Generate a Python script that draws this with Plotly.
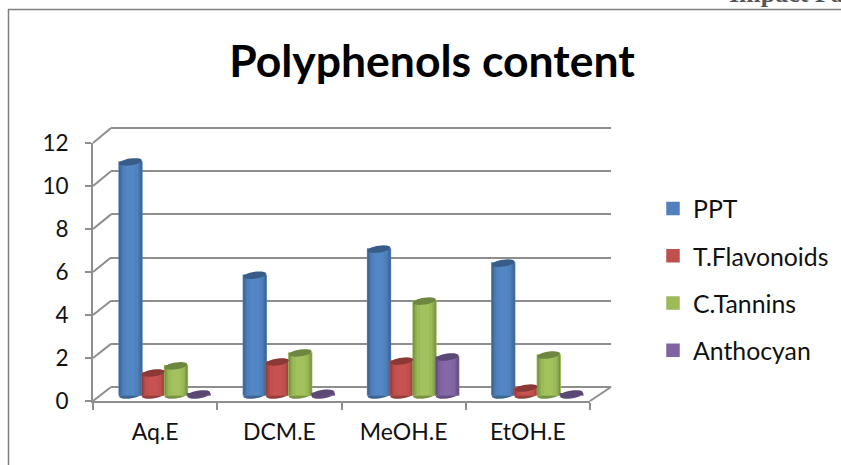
import math
import plotly.graph_objects as go

W, H = 841, 465
categories = ["Aq.E", "DCM.E", "MeOH.E", "EtOH.E"]
series_names = ["PPT", "T.Flavonoids", "C.Tannins", "Anthocyan"]
ppt = [10.8, 5.55, 6.76, 6.11]
flavonoids = [1.02, 1.53, 1.57, 0.32]
tannins = [1.35, 1.95, 4.35, 1.85]
anthocyan = [0.05, 0.08, 1.76, 0.05]
y_ticks = [0, 2, 4, 6, 8, 10, 12]
series_values = [ppt, flavonoids, tannins, anthocyan]

colors = ["#4F81BD", "#C0504D", "#9BBB59", "#8064A2"]
GRID = "#8E8E8E"
FONT = "Lato"
UNIT = 21.58  # pixels per value unit on the back wall and the bars


def shade(hex_color, f):
    r, g, b = (int(hex_color[i:i + 2], 16) for i in (1, 3, 5))
    c = lambda v: max(0, min(255, int(v * f)))
    return f"rgb({c(r)},{c(g)},{c(b)})"


def fx(px):
    return px / W


def fy(px):
    return 1 - px / H


BAR_W = 0.183
levels = [(1.0, 0.76), (0.92, 0.85), (0.82, 0.93), (0.68, 1.0), (0.4, 1.04)]
cat_idx = list(range(len(categories)))


def ellipse(cx, cy):
    a, b, k = BAR_W / 2, 0.16, 0.07
    pts = []
    for i in range(28):
        t = 2 * math.pi * i / 28
        p, q = math.cos(t), math.sin(t)
        pts.append((cx + a * p, cy + b * q + k * p))
    return "M" + " L".join(f"{x:.4f},{y:.4f}" for x, y in pts) + " Z"


fig = go.Figure()
shapes = []

for s, (name, vals, col) in enumerate(zip(series_names, series_values, colors)):
    xs = [i + (s - 1.5) * BAR_W for i in cat_idx]
    fig.add_trace(go.Bar(x=xs, y=vals, width=BAR_W, name=name, legendgroup=name,
                         marker=dict(color=col, line=dict(color=col, width=1.5)),
                         xaxis="x3", yaxis="y3", hoverinfo="skip"))
    for frac, f in levels:
        fig.add_trace(go.Bar(x=xs, y=vals, width=BAR_W * frac, showlegend=False,
                             legendgroup=name,
                             marker=dict(color=shade(col, f), line=dict(width=0)),
                             xaxis="x3", yaxis="y3", hoverinfo="skip"))
    for x, v in zip(xs, vals):
        shapes.append(dict(type="path", path=ellipse(x, 0), xref="x3", yref="y3",
                           fillcolor=shade(col, 0.78), line=dict(width=0), layer="below"))
        shapes.append(dict(type="path", path=ellipse(x, v), xref="x3", yref="y3",
                           fillcolor=shade(col, 0.72), line=dict(width=0), layer="above"))

# depth connectors between the front axis and the back wall
for t in y_ticks:
    yf = 401 - t * 21.5
    yb = 387 - t * UNIT
    shapes.append(dict(type="line", xref="paper", yref="paper", x0=fx(93), x1=fx(111),
                       y0=fy(yf), y1=fy(yb), line=dict(color=GRID, width=2), layer="below"))
shapes.append(dict(type="line", xref="paper", yref="paper", x0=fx(590), x1=fx(611),
                   y0=fy(401), y1=fy(387), line=dict(color=GRID, width=2), layer="below"))
# outer frame
shapes.append(dict(type="line", xref="paper", yref="paper", x0=fx(8.5), x1=fx(8.5),
                   y0=0, y1=fy(9), line=dict(color="#808080", width=1.5)))
shapes.append(dict(type="line", xref="paper", yref="paper", x0=fx(8), x1=1,
                   y0=fy(9.5), y1=fy(9.5), line=dict(color="#808080", width=1.5)))

fig.update_layout(
    width=W, height=H, autosize=False,
    margin=dict(l=0, r=0, t=0, b=0),
    paper_bgcolor="white", plot_bgcolor="rgba(0,0,0,0)",
    barmode="overlay",
    font=dict(family=FONT, color="#111111", size=22),
    title=dict(text="<b>Polyphenols content</b>", x=fx(432), xanchor="center", xref="paper",
               y=fy(61), yanchor="middle", yref="container",
               font=dict(family=FONT, size=44.5, color="#000000")),
    shapes=shapes,
    xaxis=dict(domain=[fx(93), fx(590)], range=[-0.5, 3.5], anchor="y", automargin=False,
               tickvals=cat_idx, ticktext=categories, ticks="", ticklabelstandoff=9,
               showline=True, linecolor=GRID, linewidth=2, showgrid=False, zeroline=False,
               tickfont=dict(size=23),
               minor=dict(tickvals=[-0.5, 0.5, 1.5, 2.5, 3.5], ticks="outside", ticklen=7,
                          tickwidth=2, tickcolor=GRID, showgrid=False)),
    yaxis=dict(domain=[fy(401), fy(143)], range=[0, 12], anchor="x", tickvals=y_ticks,
               automargin=False,
               ticks="outside", ticklen=6, tickwidth=2, tickcolor=GRID, ticklabelstandoff=12,
               showline=True, linecolor=GRID, linewidth=2, showgrid=False, zeroline=False,
               tickfont=dict(size=22.5)),
    xaxis2=dict(domain=[fx(111), fx(611)], range=[0, 1], anchor="y2", visible=False, automargin=False),
    yaxis2=dict(domain=[fy(387 + UNIT), fy(128 - UNIT)], range=[-1, 13], anchor="x2", tickvals=y_ticks,
                automargin=False,
                showticklabels=False, ticks="", showline=False, showgrid=True,
                gridcolor=GRID, gridwidth=2, zeroline=False),
    xaxis3=dict(domain=[fx(102.5), fx(599.5)], range=[-0.5, 3.5], anchor="y3", visible=False, automargin=False),
    yaxis3=dict(domain=[fy(395 + UNIT), fy(136)], range=[-1, 12], anchor="x3", visible=False, automargin=False),
    legend=dict(x=fx(653), y=fy(186), xanchor="left", yanchor="top", tracegroupgap=12,
                font=dict(family=FONT, size=24.8, color="#111111"), bgcolor="rgba(0,0,0,0)",
                itemclick=False, itemdoubleclick=False),
    showlegend=True,
    annotations=[dict(text="<b>Impact Fa</b>", xref="paper", yref="paper", x=fx(727),
                      y=fy(10), xanchor="left", yanchor="bottom", showarrow=False,
                      font=dict(family="Liberation Serif", size=26, color="#555555"))],
)
# x2/y2 must exist for the back-wall grid to be drawn
fig.add_trace(go.Scatter(x=[None], y=[None], xaxis="x2", yaxis="y2", showlegend=False, hoverinfo="skip"))
fig.add_trace(go.Scatter(x=[None], y=[None], xaxis="x", yaxis="y", showlegend=False, hoverinfo="skip"))

fig.write_html("out.html", config={"displayModeBar": False}, post_script=(
    "document.documentElement.style.overflow='hidden';document.body.style.margin='0';"
    "var g=document.getElementById('{plot_id}');g.style.position='absolute';g.style.left='0';g.style.top='0';"))
